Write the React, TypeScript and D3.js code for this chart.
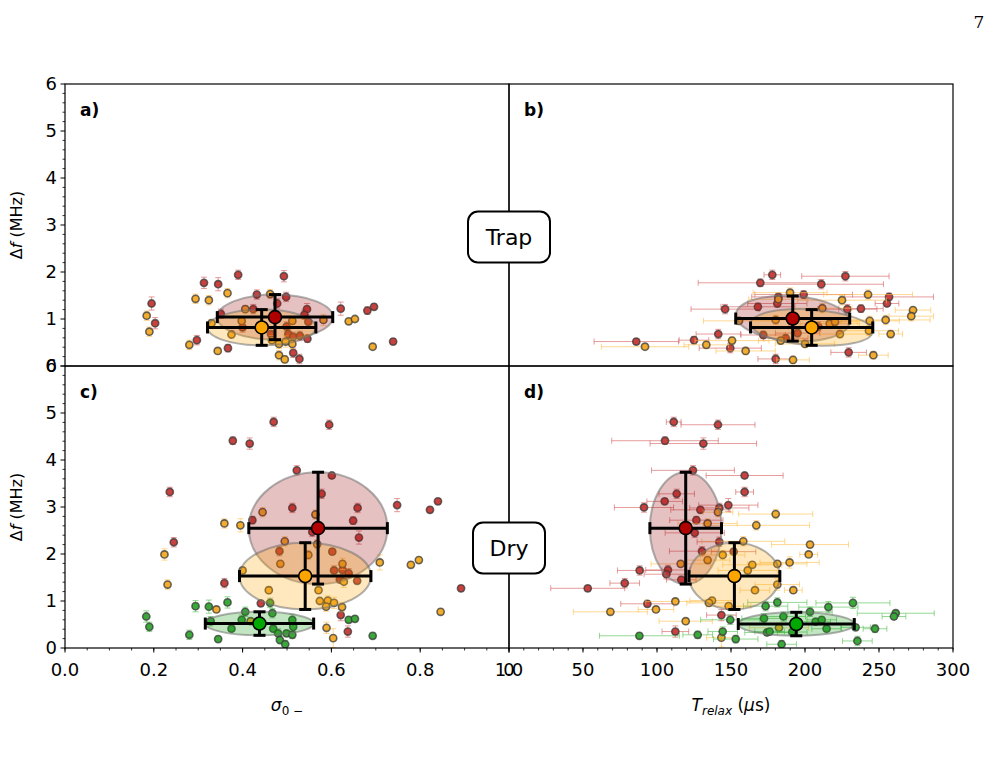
import * as d3 from "d3";

// ---- data: [x, Δf, Δf err] for σ panels, [x, Δf, x err, Δf err] for T panels ----
const trapSigmaRed = [
  [0.195, 1.33, 0.14], [0.203, 0.91, 0.12], [0.313, 1.77, 0.12], [0.345, 1.74, 0.14], [0.39, 1.94, 0.1],
  [0.493, 1.91, 0.12], [0.432, 1.52, 0.1], [0.498, 1.47, 0.1], [0.478, 1.33, 0.1], [0.424, 1.21, 0.1],
  [0.351, 1.11, 0.1], [0.545, 1.21, 0.12], [0.539, 1.09, 0.1], [0.548, 0.94, 0.1], [0.621, 1.22, 0.14],
  [0.681, 1.18, 0.08], [0.696, 1.26, 0.06], [0.739, 0.52, 0.06], [0.297, 0.55, 0.1], [0.367, 0.38, 0.08],
  [0.4, 0.82, 0.1], [0.503, 0.68, 0.1], [0.514, 0.62, 0.1], [0.529, 0.64, 0.1], [0.546, 0.58, 0.08],
  [0.514, 0.28, 0.1], [0.528, 0.15, 0.1], [0.499, 0.84, 0.1], [0.464, 0.68, 0.08],
];
const trapSigmaOrange = [
  [0.184, 1.07, 0.1], [0.19, 0.73, 0.1], [0.294, 1.43, 0.1], [0.324, 1.4, 0.1], [0.366, 1.55, 0.1],
  [0.406, 1.21, 0.08], [0.462, 1.53, 0.1], [0.398, 0.96, 0.08], [0.375, 0.67, 0.08], [0.33, 0.91, 0.08],
  [0.28, 0.45, 0.1], [0.344, 0.32, 0.06], [0.512, 0.96, 0.08], [0.582, 0.98, 0.12], [0.639, 0.95, 0.06],
  [0.653, 1.0, 0.06], [0.693, 0.41, 0.06], [0.482, 0.47, 0.1], [0.497, 0.52, 0.12], [0.512, 0.47, 0.1],
  [0.482, 0.23, 0.1], [0.495, 0.14, 0.08], [0.466, 0.55, 0.1],
];
const trapTimeRed = [
  [177.9, 1.94, 5.6, 0.1], [227.3, 1.91, 29.5, 0.1], [169.8, 1.77, 42, 0.08], [211, 1.74, 42, 0.1],
  [199.1, 1.52, 33, 0.08], [181.3, 1.33, 20, 0.08], [256.8, 1.47, 30, 0.08], [255.4, 1.33, 8, 0.06],
  [146, 1.21, 23, 0.1], [168.2, 1.26, 25, 0.08], [228.6, 1.21, 20, 0.1], [237.8, 1.22, 15, 0.08],
  [171.8, 0.66, 15, 0.08], [141.4, 0.68, 15, 0.1], [125, 0.55, 10, 0.08], [86, 0.52, 28.5, 0.06],
  [149.5, 0.38, 21, 0.1], [180.2, 0.15, 12, 0.1], [229.5, 0.29, 12, 0.1], [187, 0.59, 15, 0.08],
  [182, 1.47, 18, 0.08], [209, 0.84, 20, 0.1], [195, 0.7, 15, 0.08],
];
const trapTimeOrange = [
  [91.9, 0.41, 29.5, 0.06], [133.3, 0.45, 15, 0.08], [150.7, 0.54, 25, 0.08], [159.9, 0.32, 20, 0.08],
  [191.9, 0.13, 11, 0.08], [155.4, 0.96, 24, 0.08], [180.2, 0.98, 25, 0.1], [189.9, 1.56, 25, 0.1],
  [182, 1.42, 20, 0.08], [211.7, 1.23, 20, 0.1], [225, 1.4, 30, 0.1], [242.6, 1.52, 30, 0.1],
  [273, 1.19, 12, 0.06], [271.8, 1.06, 15, 0.1], [254.5, 0.98, 30, 0.1], [243.7, 0.96, 20, 0.1],
  [243.2, 0.75, 20, 0.1], [216.7, 0.9, 20, 0.08], [220.3, 0.94, 15, 0.08], [223.6, 0.68, 20, 0.08],
  [257.9, 0.68, 8, 0.08], [246.2, 0.23, 10, 0.08], [200, 0.47, 20, 0.08], [183.6, 0.54, 15, 0.08],
];

const drySigmaRed = [
  [0.47, 4.81, 0.1], [0.595, 4.75, 0.1], [0.378, 4.41, 0.08], [0.416, 4.35, 0.12], [0.522, 3.78, 0.1],
  [0.601, 3.67, 0.06], [0.236, 3.32, 0.1], [0.578, 3.28, 0.1], [0.512, 2.98, 0.1], [0.659, 2.98, 0.1],
  [0.748, 3.04, 0.14], [0.822, 2.94, 0.06], [0.84, 3.12, 0.06], [0.422, 2.72, 0.08], [0.649, 2.71, 0.08],
  [0.557, 2.47, 0.1], [0.662, 2.35, 0.14], [0.245, 2.25, 0.1], [0.483, 2.06, 0.1], [0.602, 2.05, 0.06],
  [0.606, 1.65, 0.1], [0.625, 1.66, 0.1], [0.639, 1.59, 0.1], [0.619, 1.46, 0.08], [0.658, 1.43, 0.06],
  [0.359, 1.38, 0.1], [0.441, 0.95, 0.06], [0.621, 0.7, 0.12], [0.637, 0.35, 0.12], [0.892, 1.27, 0.06],
];
const drySigmaOrange = [
  [0.224, 1.99, 0.12], [0.231, 1.35, 0.1], [0.359, 2.65, 0.1], [0.395, 2.61, 0.14], [0.445, 2.89, 0.1],
  [0.564, 2.84, 0.1], [0.495, 2.27, 0.1], [0.548, 1.98, 0.1], [0.568, 2.21, 0.1], [0.485, 1.79, 0.06],
  [0.4, 1.65, 0.06], [0.625, 1.79, 0.12], [0.628, 1.41, 0.12], [0.709, 1.82, 0.16], [0.779, 1.77, 0.06],
  [0.797, 1.87, 0.06], [0.459, 1.23, 0.08], [0.571, 1.23, 0.06], [0.574, 1.0, 0.06], [0.592, 1.01, 0.1],
  [0.588, 0.88, 0.1], [0.606, 0.96, 0.12], [0.624, 0.87, 0.1], [0.341, 0.82, 0.06], [0.846, 0.77, 0.06],
  [0.589, 0.43, 0.12], [0.604, 0.21, 0.2], [0.418, 0.57, 0.06],
];
const drySigmaGreen = [
  [0.183, 0.67, 0.12], [0.19, 0.45, 0.1], [0.28, 0.28, 0.1], [0.294, 0.89, 0.12], [0.324, 0.88, 0.14],
  [0.366, 0.97, 0.12], [0.345, 0.19, 0.06], [0.328, 0.57, 0.1], [0.375, 0.41, 0.06], [0.398, 0.6, 0.1],
  [0.406, 0.77, 0.1], [0.462, 0.96, 0.1], [0.467, 0.74, 0.1], [0.469, 0.41, 0.06], [0.48, 0.31, 0.1],
  [0.484, 0.17, 0.08], [0.496, 0.08, 0.08], [0.499, 0.31, 0.06], [0.512, 0.28, 0.08], [0.512, 0.6, 0.12],
  [0.514, 0.45, 0.1], [0.639, 0.6, 0.06], [0.653, 0.62, 0.06], [0.693, 0.26, 0.06],
];
const dryTimeRed = [
  [111.3, 4.81, 5, 0.1], [141.2, 4.75, 25, 0.1], [105.4, 4.41, 36, 0.08], [131.3, 4.35, 36, 0.12],
  [124.3, 3.78, 28, 0.1], [159.2, 3.67, 26, 0.06], [159.2, 3.32, 6, 0.1], [113.3, 3.28, 12, 0.1],
  [105.2, 3.12, 12, 0.06], [91.2, 2.99, 20, 0.1], [129.3, 2.94, 20, 0.06], [142.1, 2.98, 20, 0.1],
  [148.2, 3.04, 20, 0.14], [126.6, 2.72, 18, 0.08], [142.1, 2.26, 15, 0.1], [130.4, 2.06, 22, 0.1],
  [151.8, 2.05, 15, 0.06], [88.3, 1.65, 15, 0.1], [107.4, 1.66, 15, 0.1], [106.3, 1.57, 15, 0.1],
  [116.4, 1.45, 10, 0.08], [78.2, 1.38, 10, 0.1], [53.2, 1.27, 25, 0.06], [93.5, 0.94, 18, 0.06],
  [143.5, 0.7, 10, 0.12], [112.4, 0.35, 9, 0.12], [125.5, 2.45, 20, 0.1],
];
const dryTimeOrange = [
  [180.2, 2.85, 25, 0.1], [167.1, 2.61, 36, 0.1], [134.2, 2.65, 20, 0.1], [141.2, 2.89, 10, 0.1],
  [158.3, 2.27, 28, 0.1], [203.4, 2.2, 26, 0.06], [202.5, 1.99, 6, 0.06], [144.4, 1.98, 15, 0.1],
  [134.2, 1.87, 15, 0.06], [116, 1.79, 20, 0.06], [164.4, 1.77, 20, 0.06], [161.3, 1.65, 20, 0.06],
  [181.3, 1.79, 20, 0.06], [189.6, 1.82, 20, 0.12], [181.3, 1.35, 15, 0.12], [166.2, 1.23, 10, 0.06],
  [192.1, 1.23, 6, 0.06], [112.4, 0.99, 20, 0.06], [137.2, 1.01, 15, 0.06], [135.1, 0.96, 15, 0.06],
  [99.3, 0.82, 12, 0.06], [68.5, 0.77, 25, 0.06], [148.4, 0.89, 15, 0.06], [119.4, 0.57, 18, 0.06],
  [182.4, 0.43, 20, 0.1], [143.5, 0.22, 10, 0.2],
];
const dryTimeGreen = [
  [88.1, 0.26, 27, 0.06], [127.5, 0.28, 10, 0.08], [144.4, 0.35, 10, 0.1], [153.2, 0.19, 15, 0.08],
  [149.5, 0.6, 20, 0.1], [173.4, 0.89, 15, 0.1], [181.3, 0.97, 20, 0.1], [172.3, 0.63, 15, 0.1],
  [185.4, 0.67, 15, 0.1], [174.3, 0.33, 15, 0.06], [176.1, 0.35, 10, 0.06], [184.2, 0.08, 10, 0.08],
  [203.4, 0.77, 15, 0.1], [215.8, 0.87, 20, 0.12], [232.4, 0.96, 25, 0.12], [207.2, 0.56, 10, 0.06],
  [211.3, 0.6, 10, 0.06], [214.6, 0.41, 10, 0.06], [234.2, 0.44, 10, 0.06], [247.3, 0.41, 8, 0.08],
  [261.3, 0.74, 26, 0.06], [260.1, 0.67, 8, 0.06], [235.4, 0.15, 10, 0.1], [191.4, 0.34, 10, 0.06],
];

// means: [x, Δf, x err, Δf err, tilt (deg)]
const trapSigmaMeans = [[0.473, 1.04, 0.13, 0.48, 0], [0.443, 0.82, 0.122, 0.38, 0]];
const trapTimeMeans = [[191.7, 1.01, 38.5, 0.48, 4], [204.5, 0.82, 41.3, 0.38, 4]];
const drySigmaMeans = [[0.57, 2.55, 0.156, 1.19, 0], [0.541, 1.53, 0.148, 0.71, 0], [0.438, 0.52, 0.122, 0.25, 0]];
const dryTimeMeans = [[119.4, 2.55, 24.2, 1.19, 0], [152.3, 1.53, 30.7, 0.71, 0], [194.1, 0.51, 39.2, 0.25, 0]];

const sigmaTicks = [0, 0.2, 0.4, 0.6, 0.8, 1.0];
const timeTicks = [0, 50, 100, 150, 200, 250, 300];
const dfTicks = [0, 1, 2, 3, 4, 5, 6];

const pointFill = ["#c8413f", "#f2ac2e", "#3aa93a"];
const barColor = ["#d65a5a", "#ffbe4a", "#4cc04c"];
const meanFill = ["#b00000", "#ffa500", "#00a800"];
const ellFill = ["#a01010", "#ffa500", "#10a010"];

const L = 65, M = 509, R = 953, TOP = 84, MID = 366, BOT = 648;
const font = "DejaVu Sans, sans-serif";

const xSig = d3.scaleLinear().domain([0, 1]).range([L, M]);
const xTime = d3.scaleLinear().domain([0, 300]).range([M, R]);
const yTrap = d3.scaleLinear().domain([0, 6]).range([MID, TOP]);
const yDry = d3.scaleLinear().domain([0, 6]).range([BOT, MID]);

type Sc = d3.ScaleLinear<number, number>;

function Points({ data, x, y, k, withX }: { data: number[][]; x: Sc; y: Sc; k: number; withX: boolean }) {
  return (
    <g>
      {data.map((d, i) => {
        const cx = x(d[0]), cy = y(d[1]);
        const ye = withX ? d[3] : d[2];
        const y0 = y(d[1] - ye), y1 = y(d[1] + ye);
        return (
          <g key={i} stroke={barColor[k]} strokeOpacity={0.6} strokeWidth={1}>
            <line x1={cx} x2={cx} y1={y0} y2={y1} />
            <line x1={cx - 3} x2={cx + 3} y1={y0} y2={y0} />
            <line x1={cx - 3} x2={cx + 3} y1={y1} y2={y1} />
            {withX && (
              <>
                <line x1={x(d[0] - d[2])} x2={x(d[0] + d[2])} y1={cy} y2={cy} />
                <line x1={x(d[0] - d[2])} x2={x(d[0] - d[2])} y1={cy - 3} y2={cy + 3} />
                <line x1={x(d[0] + d[2])} x2={x(d[0] + d[2])} y1={cy - 3} y2={cy + 3} />
              </>
            )}
          </g>
        );
      })}
      {data.map((d, i) => (
        <circle key={"c" + i} cx={x(d[0])} cy={y(d[1])} r={3.6} fill={pointFill[k]}
          stroke="#3a3a3a" strokeOpacity={0.75} strokeWidth={1.6} />
      ))}
    </g>
  );
}

function Means({ data, x, y }: { data: number[][]; x: Sc; y: Sc }) {
  return (
    <g>
      {data.map((d, k) => {
        const cx = x(d[0]), cy = y(d[1]);
        const rx = Math.abs(x(d[0] + d[2]) - cx), ry = Math.abs(y(d[1] + d[3]) - cy);
        return (
          <ellipse key={"e" + k} cx={cx} cy={cy} rx={rx} ry={ry}
            transform={`rotate(${d[4]} ${cx} ${cy})`}
            fill={ellFill[k]} fillOpacity={0.26} stroke="#707070" strokeOpacity={0.55} strokeWidth={2} />
        );
      })}
      {data.map((d, k) => {
        const cx = x(d[0]), cy = y(d[1]);
        const xl = x(d[0] - d[2]), xr = x(d[0] + d[2]);
        const yt = y(d[1] + d[3]), yb = y(d[1] - d[3]);
        return (
          <g key={"m" + k} stroke="#000" strokeWidth={3}>
            <line x1={xl} x2={xr} y1={cy} y2={cy} />
            <line x1={cx} x2={cx} y1={yt} y2={yb} />
            <line x1={xl} x2={xl} y1={cy - 6} y2={cy + 6} />
            <line x1={xr} x2={xr} y1={cy - 6} y2={cy + 6} />
            <line x1={cx - 6} x2={cx + 6} y1={yt} y2={yt} />
            <line x1={cx - 6} x2={cx + 6} y1={yb} y2={yb} />
            <circle cx={cx} cy={cy} r={6.5} fill={meanFill[k]} strokeWidth={1.6} />
          </g>
        );
      })}
    </g>
  );
}

function YAxis({ y }: { y: Sc }) {
  const minor = d3.range(0, 6.001, 0.2).filter((v) => Math.abs(v - Math.round(v)) > 1e-6);
  return (
    <g>
      {minor.map((v, i) => (
        <line key={"n" + i} x1={L - 2.5} x2={L} y1={y(v)} y2={y(v)} stroke="#000" strokeWidth={0.8} />
      ))}
      {dfTicks.map((v) => (
        <g key={v}>
          <line x1={L - 4.5} x2={L} y1={y(v)} y2={y(v)} stroke="#000" strokeWidth={1} />
          <text x={L - 8} y={y(v)} dy="0.36em" textAnchor="end" fontSize={18} fontFamily={font}>{v}</text>
        </g>
      ))}
      <text transform={`translate(22,${(y(0) + y(6)) / 2}) rotate(-90)`} textAnchor="middle" fontSize={16} fontFamily={font}>
        Δ<tspan fontStyle="italic">f</tspan> (MHz)
      </text>
    </g>
  );
}

function XAxis({ x, ticks, minorStep, fmt }: { x: Sc; ticks: number[]; minorStep: number; fmt: (v: number) => string }) {
  const [a, b] = x.domain();
  const minor = d3.range(a, b + 1e-6, minorStep);
  return (
    <g>
      {minor.map((v, i) => (
        <line key={"n" + i} x1={x(v)} x2={x(v)} y1={BOT} y2={BOT + 2.5} stroke="#000" strokeWidth={0.8} />
      ))}
      {ticks.map((v) => (
        <g key={v}>
          <line x1={x(v)} x2={x(v)} y1={BOT} y2={BOT + 4.5} stroke="#000" strokeWidth={1} />
          <text x={x(v)} y={BOT + 28} textAnchor="middle" fontSize={18} fontFamily={font}>{fmt(v)}</text>
        </g>
      ))}
    </g>
  );
}

function Label({ x, y, text }: { x: number; y: number; text: string }) {
  return <text x={x} y={y} fontSize={17} fontWeight="bold" fontFamily={font}>{text}</text>;
}

function Box({ cx, cy, w, h, text }: { cx: number; cy: number; w: number; h: number; text: string }) {
  return (
    <g>
      <rect x={cx - w / 2} y={cy - h / 2} width={w} height={h} rx={10} fill="#fff" stroke="#000" strokeWidth={2} />
      <text x={cx} y={cy} dy="0.36em" textAnchor="middle" fontSize={22} fontFamily={font}>{text}</text>
    </g>
  );
}

export default function App() {
  return (
    <svg width={1003} height={768} style={{ position: "absolute", left: 0, top: 0, background: "#fff" }}>
      <rect width={1003} height={768} fill="#fff" />
      <text x={979} y={28} textAnchor="middle" fontSize={17} fontFamily="DejaVu Serif, serif">7</text>

      <defs>
        <clipPath id="cA"><rect x={L} y={TOP} width={M - L} height={MID - TOP} /></clipPath>
        <clipPath id="cB"><rect x={M} y={TOP} width={R - M} height={MID - TOP} /></clipPath>
        <clipPath id="cC"><rect x={L} y={MID} width={M - L} height={BOT - MID} /></clipPath>
        <clipPath id="cD"><rect x={M} y={MID} width={R - M} height={BOT - MID} /></clipPath>
      </defs>

      <g clipPath="url(#cA)">
        <Points data={trapSigmaRed} x={xSig} y={yTrap} k={0} withX={false} />
        <Points data={trapSigmaOrange} x={xSig} y={yTrap} k={1} withX={false} />
        <Means data={trapSigmaMeans} x={xSig} y={yTrap} />
      </g>
      <g clipPath="url(#cB)">
        <Points data={trapTimeRed} x={xTime} y={yTrap} k={0} withX={true} />
        <Points data={trapTimeOrange} x={xTime} y={yTrap} k={1} withX={true} />
        <Means data={trapTimeMeans} x={xTime} y={yTrap} />
      </g>
      <g clipPath="url(#cC)">
        <Points data={drySigmaRed} x={xSig} y={yDry} k={0} withX={false} />
        <Points data={drySigmaOrange} x={xSig} y={yDry} k={1} withX={false} />
        <Points data={drySigmaGreen} x={xSig} y={yDry} k={2} withX={false} />
        <Means data={drySigmaMeans} x={xSig} y={yDry} />
      </g>
      <g clipPath="url(#cD)">
        <Points data={dryTimeRed} x={xTime} y={yDry} k={0} withX={true} />
        <Points data={dryTimeOrange} x={xTime} y={yDry} k={1} withX={true} />
        <Points data={dryTimeGreen} x={xTime} y={yDry} k={2} withX={true} />
        <Means data={dryTimeMeans} x={xTime} y={yDry} />
      </g>

      <g fill="none" stroke="#000" strokeWidth={1.2}>
        <rect x={L} y={TOP} width={M - L} height={MID - TOP} />
        <rect x={M} y={TOP} width={R - M} height={MID - TOP} />
        <rect x={L} y={MID} width={M - L} height={BOT - MID} />
        <rect x={M} y={MID} width={R - M} height={BOT - MID} />
      </g>

      <YAxis y={yTrap} />
      <YAxis y={yDry} />
      <XAxis x={xSig} ticks={sigmaTicks} minorStep={0.05} fmt={(v) => v.toFixed(1)} />
      <XAxis x={xTime} ticks={timeTicks} minorStep={10} fmt={(v) => String(v)} />

      <text x={(L + M) / 2} y={711} textAnchor="middle" fontSize={17} fontFamily={font}>
        <tspan fontStyle="italic">σ</tspan><tspan fontSize={12} dy={4}>0 −</tspan>
      </text>
      <text x={(M + R) / 2} y={711} textAnchor="middle" fontSize={17} fontFamily={font}>
        <tspan fontStyle="italic">T</tspan><tspan fontSize={12} dy={4} fontStyle="italic">relax</tspan>
        <tspan dy={-4}> (</tspan><tspan fontStyle="italic">μ</tspan>s)
      </text>

      <Label x={80} y={116} text="a)" />
      <Label x={524} y={116} text="b)" />
      <Label x={80} y={398} text="c)" />
      <Label x={524} y={398} text="d)" />

      <Box cx={M} cy={237} w={82} h={51} text="Trap" />
      <Box cx={M} cy={548} w={72} h={51} text="Dry" />
    </svg>
  );
}
